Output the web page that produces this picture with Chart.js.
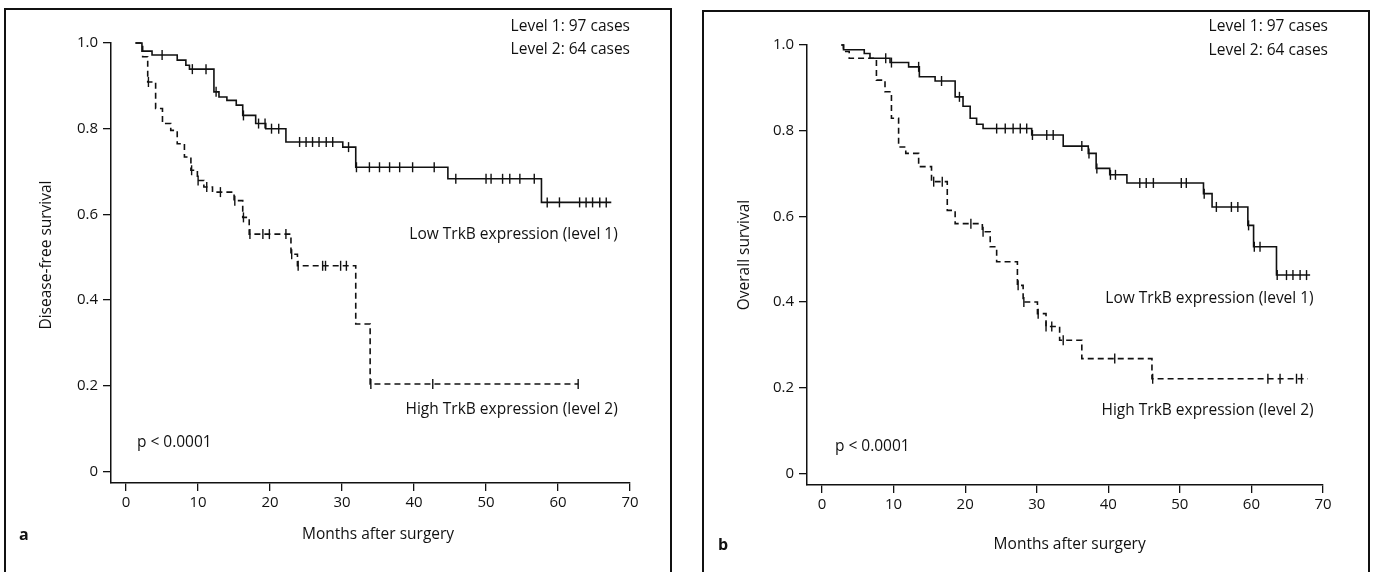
<!DOCTYPE html>
<html>
<head>
<meta charset="utf-8">
<script src="https://cdn.jsdelivr.net/npm/chart.js@4.4.1/dist/chart.umd.min.js"></script>
<style>
  html, body { margin: 0; padding: 0; background: #fff; }
  body { width: 1373px; height: 572px; position: relative; overflow: hidden; }
  canvas { position: absolute; top: 0; }
  #chartA { left: 0; }
  #chartB { left: 686px; }
</style>
</head>
<body>
<canvas id="chartA" width="686" height="572"></canvas>
<canvas id="chartB" width="687" height="572"></canvas>
<script>
// Panel a: disease-free survival (months after surgery, proportion)
const dfsLowMonths = [1.3, 2.2, 3.6, 7.1, 8.3, 8.8, 12.2, 12.9, 14.0, 15.3, 16.2, 18.0, 19.4, 22.2, 30.1, 31.9, 44.7, 57.7, 67.4];
const dfsLowSurv   = [1.0, 0.981, 0.972, 0.96, 0.948, 0.939, 0.886, 0.874, 0.866, 0.855, 0.831, 0.812, 0.8, 0.769, 0.757, 0.71, 0.683, 0.628, 0.628];
const dfsLowCensored = [5.0, 9.2, 11.1, 12.5, 16.3, 18.4, 19.3, 20.2, 21.2, 24.1, 25.0, 25.9, 26.8, 27.8, 28.7, 30.9, 32.0,
  33.8, 35.2, 36.6, 38.0, 39.8, 42.8, 45.8, 50.0, 50.7, 52.3, 53.3, 54.7, 56.7, 58.5, 60.2, 63.0, 63.9, 64.8, 65.8, 66.7];

const dfsHighMonths = [1.3, 2.3, 3.0, 4.1, 5.05, 6.2, 7.1, 8.1, 9.0, 9.9, 10.8, 12.0, 15.0, 16.2, 17.1, 22.9, 23.8, 31.9, 33.9, 62.8];
const dfsHighSurv   = [1.0, 0.968, 0.909, 0.847, 0.812, 0.796, 0.765, 0.734, 0.703, 0.679, 0.664, 0.652, 0.632, 0.593, 0.554, 0.507, 0.48, 0.344, 0.204, 0.204];
const dfsHighCensored = [3.1, 9.1, 10.0, 11.2, 13.1, 15.1, 16.3, 17.2, 19.0, 19.9, 22.2, 23.0, 23.9, 27.3, 27.7, 29.8, 30.6, 34.0, 42.6, 62.8];

// Panel b: overall survival
const osLowMonths = [2.7, 3.0, 5.9, 6.7, 9.5, 12.1, 13.6, 15.8, 18.6, 19.7, 20.7, 21.6, 22.5, 29.3, 33.7, 37.2, 38.3, 40.2, 42.6, 53.3, 54.5, 59.5, 60.3, 63.5, 68.2];
const osLowSurv   = [1.0, 0.989, 0.98, 0.969, 0.959, 0.949, 0.926, 0.916, 0.879, 0.857, 0.829, 0.815, 0.805, 0.79, 0.764, 0.747, 0.712, 0.697, 0.678, 0.653, 0.622, 0.579, 0.529, 0.463, 0.463];
const osLowCensored = [8.9, 9.7, 13.5, 16.7, 19.2, 24.4, 25.6, 26.7, 27.7, 28.6, 29.4, 31.4, 32.3, 36.3, 37.3, 38.4, 40.3, 41.0,
  44.4, 45.3, 46.3, 50.2, 50.9, 53.4, 55.1, 57.2, 58.1, 59.6, 60.4, 61.2, 63.6, 64.9, 65.8, 66.8, 67.7];

const osHighMonths = [2.7, 3.0, 3.8, 7.6, 8.8, 9.7, 10.7, 11.7, 13.5, 15.3, 17.5, 18.6, 22.4, 23.5, 24.4, 27.3, 28.1, 30.1, 31.3, 33.2, 36.3, 46.1, 67.9];
const osHighSurv   = [1.0, 0.985, 0.969, 0.918, 0.891, 0.829, 0.762, 0.747, 0.716, 0.681, 0.614, 0.583, 0.564, 0.529, 0.494, 0.439, 0.4, 0.373, 0.343, 0.311, 0.268, 0.221, 0.221];
const osHighCensored = [15.6, 16.8, 20.8, 22.5, 27.4, 28.2, 30.2, 31.3, 32.1, 33.7, 40.9, 46.2, 62.3, 64.0, 66.3, 67.0];

const xTicks = [0, 10, 20, 30, 40, 50, 60, 70];
const yTicks = [0, 0.2, 0.4, 0.6, 0.8, 1.0];

const INK = '#111';
const FONT = "'Open Sans', 'Noto Sans', sans-serif";

Chart.defaults.font.family = FONT;
Chart.defaults.color = INK;

// value of the step curve at time t
function survivalAt(months, surv, t) {
  let v = surv[0];
  for (let i = 0; i < months.length; i++) {
    if (months[i] <= t) v = surv[i];
  }
  return v;
}

function curve(months, surv, dashed) {
  return {
    type: 'line',
    data: months.map((m, i) => ({ x: m, y: surv[i] })),
    stepped: 'before', // chart.js 'before' = hold level, then drop
    borderColor: INK,
    borderWidth: 1.6,
    borderDash: dashed ? [6, 4] : [],
    pointRadius: 0,
    fill: false,
    clip: false
  };
}

function censorMarks(times, months, surv) {
  return {
    type: 'scatter',
    data: times.map(t => ({ x: t, y: survivalAt(months, surv, t) })),
    pointStyle: 'line',
    rotation: 90,
    pointRadius: 5,
    pointHoverRadius: 5,
    borderColor: INK,
    borderWidth: 1.4,
    showLine: false,
    clip: false
  };
}

// box, axis titles, panel letter and in-plot labels
const annotate = {
  id: 'annotate',
  afterDraw(chart, args, opts) {
    const ctx = chart.ctx;
    const xs = chart.scales.x, ys = chart.scales.y;
    ctx.save();
    ctx.strokeStyle = INK;
    ctx.lineWidth = 2;
    ctx.strokeRect(opts.box[0], opts.box[1], opts.box[2], opts.box[3]);

    ctx.fillStyle = INK;
    ctx.textBaseline = 'middle';
    ctx.font = '15.5px ' + FONT;
    opts.labels.forEach(l => {
      ctx.textAlign = l.align;
      ctx.fillText(l.text, xs.getPixelForValue(l.x), ys.getPixelForValue(l.y));
    });

    ctx.textAlign = 'center';
    ctx.fillText('Months after surgery', xs.getPixelForValue(opts.xTitle[0]), opts.xTitle[1]);

    ctx.save();
    ctx.translate(opts.yTitle[0], opts.yTitle[1]);
    ctx.rotate(-Math.PI / 2);
    ctx.fillText(opts.yTitle[2], 0, 0);
    ctx.restore();

    ctx.font = 'bold 16px ' + FONT;
    ctx.textAlign = 'left';
    ctx.fillText(opts.letter[2], opts.letter[0], opts.letter[1]);
    ctx.restore();
  }
};

function axisOptions(xMin) {
  const tickStyle = { display: true, drawOnChartArea: false, drawTicks: true, tickLength: 8, color: INK, lineWidth: 1.3 };
  return {
    x: {
      type: 'linear',
      min: xMin,
      max: 70,
      afterBuildTicks: s => { s.ticks = xTicks.map(v => ({ value: v })); },
      afterFit: s => { s.height = 40; },
      ticks: { font: { size: 15 }, padding: 3, color: INK, maxRotation: 0 },
      grid: tickStyle,
      border: { display: true, color: INK, width: 1.5 }
    },
    y: {
      min: -0.027,
      max: 1.0,
      afterBuildTicks: s => { s.ticks = yTicks.map(v => ({ value: v })); },
      afterFit: s => { s.width = 60; },
      ticks: {
        font: { size: 15 },
        padding: 5,
        color: INK,
        callback: v => (v === 0 ? '0' : v.toFixed(1))
      },
      grid: tickStyle,
      border: { display: true, color: INK, width: 1.5 }
    }
  };
}

function makeChart(id, datasets, padding, xMin, annot) {
  return new Chart(document.getElementById(id), {
    type: 'line',
    data: { datasets },
    options: {
      responsive: false,
      animation: false,
      layout: { padding },
      plugins: { legend: { display: false }, tooltip: { enabled: false }, annotate: annot },
      scales: axisOptions(xMin)
    },
    plugins: [annotate]
  });
}

makeChart('chartA', [
  curve(dfsLowMonths, dfsLowSurv, false),
  curve(dfsHighMonths, dfsHighSurv, true),
  censorMarks(dfsLowCensored, dfsLowMonths, dfsLowSurv),
  censorMarks(dfsHighCensored, dfsHighMonths, dfsHighSurv)
], { left: 51, right: 56, top: 43, bottom: 49 }, -2.1, {
  box: [5, 9, 666, 600],
  labels: [
    { text: 'Level 1: 97 cases', x: 70, y: 1.038, align: 'right' },
    { text: 'Level 2: 64 cases', x: 70, y: 0.984, align: 'right' },
    { text: 'Low TrkB expression (level 1)', x: 68.3, y: 0.554, align: 'right' },
    { text: 'High TrkB expression (level 2)', x: 68.3, y: 0.144, align: 'right' },
    { text: 'p < 0.0001', x: 1.5, y: 0.067, align: 'left' }
  ],
  xTitle: [35, 535],
  yTitle: [47, 255, 'Disease-free survival'],
  letter: [19, 535, 'a']
});

makeChart('chartB', [
  curve(osLowMonths, osLowSurv, false),
  curve(osHighMonths, osHighSurv, true),
  censorMarks(osLowCensored, osLowMonths, osLowSurv),
  censorMarks(osHighCensored, osHighMonths, osHighSurv)
], { left: 61, right: 50, top: 45, bottom: 47 }, -2.1, {
  box: [17, 11, 666, 600],
  labels: [
    { text: 'Level 1: 97 cases', x: 70.7, y: 1.042, align: 'right' },
    { text: 'Level 2: 64 cases', x: 70.7, y: 0.988, align: 'right' },
    { text: 'Low TrkB expression (level 1)', x: 68.7, y: 0.409, align: 'right' },
    { text: 'High TrkB expression (level 2)', x: 68.7, y: 0.147, align: 'right' },
    { text: 'p < 0.0001', x: 1.8, y: 0.063, align: 'left' }
  ],
  xTitle: [34.6, 545],
  yTitle: [59, 255, 'Overall survival'],
  letter: [32, 545, 'b']
});
</script>
</body>
</html>
